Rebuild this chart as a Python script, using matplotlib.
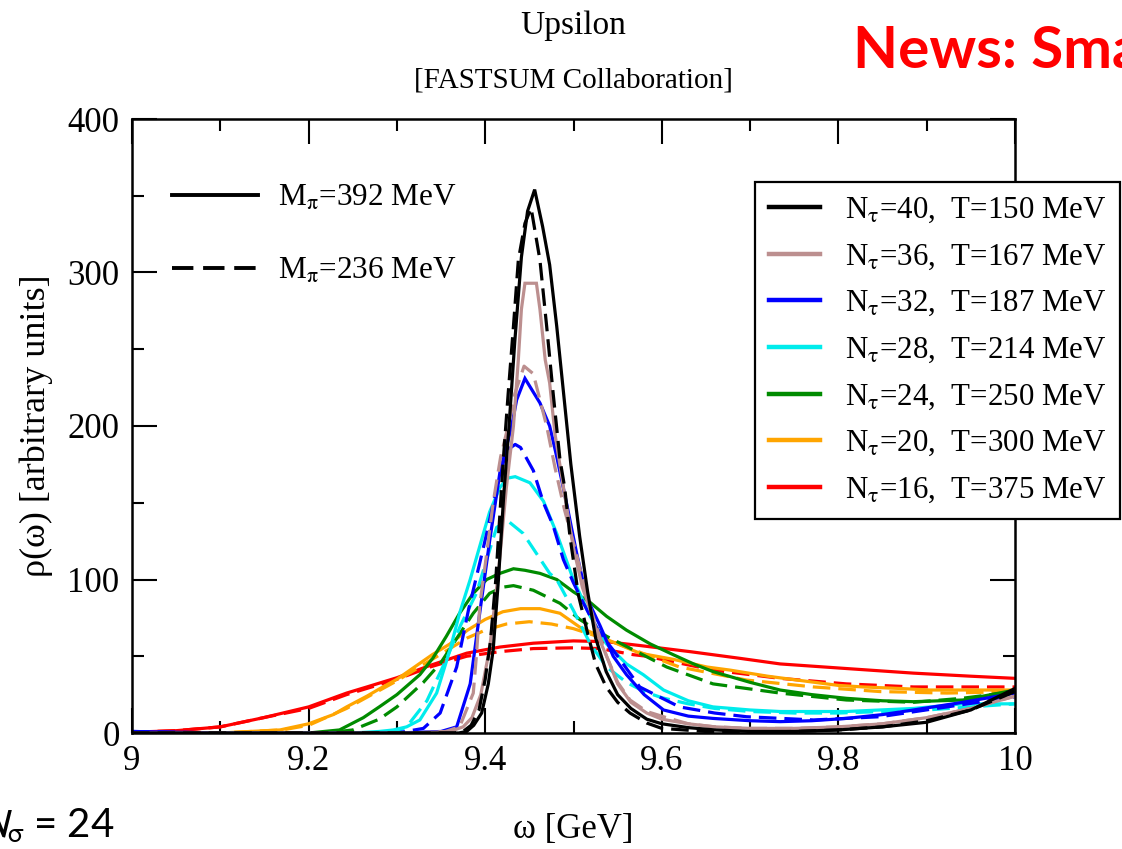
import matplotlib
matplotlib.use("Agg")
import matplotlib.pyplot as plt
from matplotlib.lines import Line2D
from matplotlib.ticker import MultipleLocator, FormatStrFormatter

plt.rcParams['font.family'] = ['Liberation Serif', 'DejaVu Serif']
plt.rcParams['mathtext.fontset'] = 'stix'

# --- spectral functions (omega in GeV, rho arbitrary) ---
# Ntau=40, T=150 MeV
w40_392 = [9.00, 9.30, 9.37, 9.379, 9.387, 9.396, 9.4035, 9.409, 9.415, 9.421, 9.427, 9.4335,
           9.441, 9.448, 9.456, 9.465, 9.473, 9.481, 9.489, 9.497, 9.507, 9.516, 9.525, 9.537,
           9.55, 9.565, 9.583, 9.60, 9.63, 9.66, 9.70, 9.75, 9.80, 9.85, 9.90, 9.95, 10.0]
r40_392 = [0, 0, 0, 1, 5, 13, 32, 54, 100, 155, 200, 255,
           310, 340, 354, 330, 305, 265, 220, 175, 128, 92, 62, 40,
           25, 16, 9, 6, 3.5, 2, 1, 1, 2, 4, 7, 15, 29]
w40_236 = [9.00, 9.30, 9.365, 9.375, 9.384, 9.393, 9.400, 9.406, 9.412, 9.4205, 9.426, 9.432,
           9.4375, 9.445, 9.452, 9.462, 9.4696, 9.477, 9.4847, 9.490, 9.496, 9.5055, 9.516, 9.525,
           9.537, 9.55, 9.564, 9.583, 9.60, 9.65, 9.70, 9.75, 9.80, 9.85, 9.90, 9.95, 10.0]
r40_236 = [0, 0, 0, 1, 5, 15, 35, 60, 100, 178, 221, 265,
           308, 332, 342, 308, 265, 221, 178, 160, 128, 90, 65, 45,
           30, 20, 13, 6.5, 3, 1, 0.5, 1, 2, 4, 8, 15, 27]

# Ntau=36, T=167 MeV
w36_392 = [9.00, 9.32, 9.36, 9.375, 9.385, 9.395, 9.405, 9.415, 9.424, 9.432, 9.4375, 9.441,
           9.445, 9.458, 9.462, 9.468, 9.473, 9.479, 9.49, 9.4998, 9.51, 9.519, 9.53, 9.5375,
           9.55, 9.565, 9.583, 9.60, 9.63, 9.66, 9.70, 9.75, 9.80, 9.85, 9.90, 9.95, 10.0]
r36_392 = [0, 0, 1, 4, 10, 25, 55, 105, 160, 200, 243, 276,
           293, 293, 276, 243, 228, 195, 155, 121, 95, 80, 60, 50,
           32, 20, 13, 9, 6, 4, 3, 3, 4, 6, 10, 16, 24]
w36_236 = [9.00, 9.32, 9.355, 9.371, 9.3865, 9.39, 9.394, 9.4017, 9.409, 9.4175, 9.426, 9.4335,
           9.444, 9.4545, 9.462, 9.4696, 9.479, 9.490, 9.5036, 9.515, 9.526, 9.5375, 9.55, 9.564,
           9.583, 9.602, 9.63, 9.66, 9.70, 9.75, 9.80, 9.85, 9.90, 9.95, 10.0]
r36_236 = [0, 0, 1, 4, 26, 50, 84, 117, 150, 180, 200, 221,
           239, 234, 217, 200, 173, 145, 116, 89, 69, 50, 33, 21.5,
           14, 10.6, 6, 4, 3, 3, 4, 6, 10, 16, 24]

# Ntau=32, T=187 MeV
w32_392 = [9.00, 9.05, 9.10, 9.30, 9.35, 9.3677, 9.383, 9.394, 9.405, 9.4167, 9.430, 9.4356,
           9.445, 9.462, 9.473, 9.481, 9.492, 9.5036, 9.515, 9.530, 9.545, 9.560, 9.58, 9.602,
           9.63, 9.658, 9.70, 9.734, 9.77, 9.809, 9.85, 9.885, 9.941, 10.0]
r32_392 = [1, 0.5, 0, 0, 1, 4, 32, 79, 125, 170, 200, 217,
           231, 215, 200, 180, 150, 117, 88, 70, 50, 38, 25, 15,
           11, 9.5, 8, 7.4, 8, 9.5, 12, 15, 20, 26]
w32_236 = [9.00, 9.05, 9.10, 9.30, 9.33, 9.349, 9.3677, 9.381, 9.3935, 9.4017, 9.413, 9.424,
           9.434, 9.44, 9.4545, 9.466, 9.477, 9.4885, 9.4998, 9.51, 9.519, 9.53, 9.545, 9.575,
           9.62, 9.66, 9.696, 9.772, 9.847, 9.923, 10.0]
r32_236 = [1, 0.5, 0, 0, 3, 13, 43, 80, 110, 130, 160, 184,
           188, 186, 171, 150, 135, 113, 98, 86, 76, 65, 54, 30,
           17, 13, 10.6, 8.5, 10.6, 17, 23.6]

# Ntau=28, T=214 MeV
w28_392 = [9.00, 9.25, 9.28, 9.296, 9.311, 9.326, 9.345, 9.36, 9.371, 9.383, 9.394, 9.405,
           9.4167, 9.425, 9.434, 9.4507, 9.466, 9.481, 9.4998, 9.519, 9.5375, 9.56, 9.579, 9.602,
           9.63, 9.658, 9.70, 9.734, 9.809, 9.885, 9.941, 10.0]
r28_392 = [0, 0, 1, 2, 4, 8.5, 26, 54, 78, 100, 122, 144,
           160, 166, 167, 163, 151, 130, 100, 76, 58, 45, 38, 28,
           21, 17, 15, 14, 14, 16, 19, 19]
w28_236 = [9.00, 9.28, 9.30, 9.311, 9.334, 9.356, 9.372, 9.39, 9.4017, 9.413, 9.426, 9.443,
           9.458, 9.473, 9.481, 9.4998, 9.519, 9.5375, 9.56, 9.58, 9.60, 9.63, 9.66, 9.70,
           9.75, 9.80, 9.85, 9.90, 9.95, 10.0]
r28_236 = [0, 0, 1, 4, 21, 48, 70, 91, 113, 134, 138, 130,
           117, 104, 100, 80, 58, 43, 33, 27, 23, 19, 16, 14,
           13, 13, 14, 15, 17, 19]

# Ntau=24, T=250 MeV
w24_392 = [9.00, 9.20, 9.235, 9.262, 9.28, 9.30, 9.326, 9.341, 9.356, 9.371, 9.3865, 9.4017,
           9.4167, 9.432, 9.445, 9.462, 9.481, 9.4998, 9.519, 9.5375, 9.56, 9.587, 9.613, 9.636,
           9.658, 9.70, 9.734, 9.77, 9.809, 9.85, 9.885, 9.941, 10.0]
r24_392 = [0, 0, 2, 10, 17, 25, 38, 49, 63, 78, 91, 100,
           104, 107, 106, 104, 100, 92, 85, 76, 67, 58, 51, 45,
           40, 33, 28, 25, 22.6, 21, 20.4, 21.5, 28]
w24_236 = [9.00, 9.22, 9.25, 9.28, 9.30, 9.33, 9.35, 9.375, 9.3865, 9.405, 9.42, 9.432,
           9.4545, 9.4847, 9.507, 9.5375, 9.575, 9.6055, 9.658, 9.734, 9.809, 9.885, 9.94, 10.0]
r24_236 = [0, 0, 2, 9, 17, 33, 46, 68, 78, 91, 95, 96,
           93, 84.5, 74, 63, 52, 43, 32, 26, 21.5, 20, 22.6, 27]

# Ntau=20, T=300 MeV
w20_392 = [9.00, 9.10, 9.1676, 9.20, 9.228, 9.243, 9.266, 9.281, 9.30, 9.32, 9.34, 9.36,
           9.38, 9.40, 9.42, 9.44, 9.462, 9.4847, 9.507, 9.5375, 9.575, 9.613, 9.651, 9.677,
           9.72, 9.753, 9.80, 9.828, 9.87, 9.904, 9.95, 10.0]
r20_392 = [0, 0, 2, 6, 12, 17, 24, 29, 35, 43, 51, 58,
           67, 74, 79, 81, 81, 78, 69, 61, 52, 48, 43, 41,
           37, 34.5, 31, 30, 29, 28, 28, 28]
w20_236 = [9.00, 9.10, 9.17, 9.20, 9.243, 9.281, 9.30, 9.32, 9.34, 9.36, 9.38, 9.40,
           9.424, 9.45, 9.475, 9.4998, 9.5375, 9.564, 9.62, 9.696, 9.772, 9.847, 9.923, 10.0]
r20_236 = [0, 0, 2, 5, 16, 28, 34, 41, 48, 55, 62, 67,
           71, 72.5, 71, 68, 61, 55, 43, 34.5, 30, 27, 26, 27]

# Ntau=16, T=375 MeV
w16_392 = [9.00, 9.05, 9.10, 9.149, 9.20, 9.243, 9.266, 9.30, 9.3375, 9.379, 9.4167, 9.4545,
           9.50, 9.5375, 9.575, 9.632, 9.689, 9.734, 9.809, 9.885, 9.95, 10.0]
r16_392 = [0.5, 1.5, 4, 10, 17, 26, 30, 36, 44, 52, 56, 58.5,
           60, 59.5, 57, 53, 48.6, 45, 42, 39, 37, 35.6]
w16_236 = [9.00, 9.05, 9.10, 9.149, 9.20, 9.243, 9.30, 9.3375, 9.379, 9.4167, 9.4545, 9.50,
           9.53, 9.568, 9.583, 9.658, 9.734, 9.809, 9.885, 10.0]
r16_236 = [0.5, 1.5, 4, 10, 16, 25, 35, 43, 50, 53, 55, 55.5,
           55, 51, 50, 41, 35.6, 32, 30, 30]

temp_labels = ['N$_\\mathrm{\\tau}$=40,  T=150 MeV', 'N$_\\mathrm{\\tau}$=36,  T=167 MeV',
               'N$_\\mathrm{\\tau}$=32,  T=187 MeV', 'N$_\\mathrm{\\tau}$=28,  T=214 MeV',
               'N$_\\mathrm{\\tau}$=24,  T=250 MeV', 'N$_\\mathrm{\\tau}$=20,  T=300 MeV',
               'N$_\\mathrm{\\tau}$=16,  T=375 MeV']
pion_labels = ['M$_\\mathrm{\\pi}$=392 MeV', 'M$_\\mathrm{\\pi}$=236 MeV']
colors = ['#000000', '#bc8f8f', '#0000ff', '#00ecec', '#008b00', '#ffa500', '#ff0000']

solid = [(w40_392, r40_392), (w36_392, r36_392), (w32_392, r32_392), (w28_392, r28_392),
         (w24_392, r24_392), (w20_392, r20_392), (w16_392, r16_392)]
dashed = [(w40_236, r40_236), (w36_236, r36_236), (w32_236, r32_236), (w28_236, r28_236),
          (w24_236, r24_236), (w20_236, r20_236), (w16_236, r16_236)]

DASH = (0, (5.5, 2.5))
LW = 2.3

fig = plt.figure(figsize=(11.22, 8.49), dpi=100)
ax = fig.add_axes([132 / 1122, 1 - 733 / 849, 883 / 1122, 614 / 849])

# hottest first so the black curves end up on top
for i in reversed(range(len(colors))):
    ax.plot(*solid[i], color=colors[i], lw=LW, solid_joinstyle='miter')
    ax.plot(*dashed[i], color=colors[i], lw=LW, ls=DASH)

ax.set_xlim(9, 10)
ax.set_ylim(0, 400)
ax.xaxis.set_major_locator(MultipleLocator(0.2))
ax.xaxis.set_minor_locator(MultipleLocator(0.1))
ax.yaxis.set_major_locator(MultipleLocator(100))
ax.yaxis.set_minor_locator(MultipleLocator(50))
ax.xaxis.set_major_formatter(FormatStrFormatter('%g'))
ax.tick_params(which='both', direction='in', top=True, right=True, width=1.5,
               labelsize=25, pad=9)
ax.tick_params(which='major', length=18)
ax.tick_params(which='minor', length=8.5)
for s in ax.spines.values():
    s.set_linewidth(1.8)

ax.set_ylabel('ρ(ω) [arbitrary units]', fontsize=26, labelpad=10)
ax.set_xlabel('ω [GeV]', fontsize=25, labelpad=25)

# pion-mass key (line style)
pion_handles = [Line2D([], [], color='k', lw=2.8),
                Line2D([], [], color='k', lw=2.8, ls=DASH)]
leg1 = ax.legend(pion_handles, pion_labels, loc='upper left',
                 bbox_to_anchor=(172 / 1122, 1 - 184 / 849), bbox_transform=fig.transFigure,
                 frameon=False, fontsize=22.5, handlelength=2.75, handletextpad=0.64,
                 labelspacing=1.38, borderpad=0, borderaxespad=0)
ax.add_artist(leg1)

# temperature key (colour)
temp_handles = [Line2D([], [], color=c, lw=3.2) for c in colors]
leg2 = ax.legend(temp_handles, temp_labels, loc='upper right',
                 bbox_to_anchor=(1120 / 1122, 1 - 182 / 849), bbox_transform=fig.transFigure,
                 fontsize=22.2, frameon=True, fancybox=False, edgecolor='k', framealpha=1,
                 handlelength=1.66, handletextpad=0.8, labelspacing=0.56,
                 borderpad=0.45, borderaxespad=0)
leg2.get_frame().set_linewidth(1.6)

fig.text(0.511, 1 - 26 / 849, 'Upsilon', ha='center', va='center', fontsize=24)
fig.text(0.511, 1 - 80 / 849, '[FASTSUM Collaboration]', ha='center', va='center', fontsize=21)
fig.text(853 / 1122, 1 - 68 / 849, 'News: Sma', color='#ff0000', fontsize=42,
         fontweight='bold', family='Lato', va='baseline')
fig.text(-20 / 1122, 11 / 849, '$N_\\mathrm{\\sigma}$ = 24', fontsize=29, family='Lato',
         math_fontfamily='stixsans', va='baseline')

fig.savefig('out.png', dpi=100)
